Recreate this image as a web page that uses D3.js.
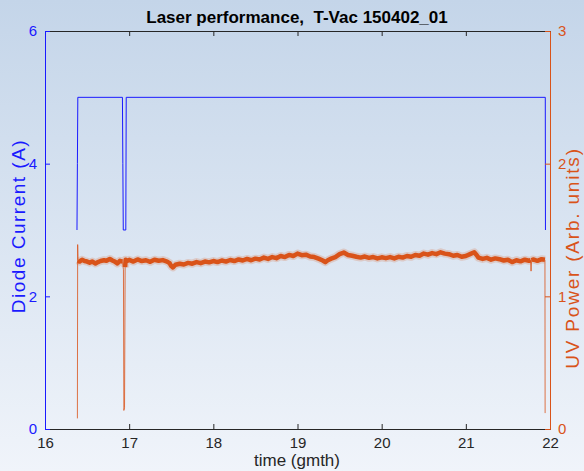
<!DOCTYPE html>
<html>
<head>
<meta charset="utf-8">
<script src="https://cdn.jsdelivr.net/npm/d3@7"></script>
<style>
  body { margin: 0; }
  svg { display: block; font-family: "Liberation Sans", Arial, Helvetica, sans-serif; }
</style>
</head>
<body>
<div id="chart"></div>
<script>
const width = 584, height = 471;
const margin = {top: 31, right: 34, bottom: 42, left: 45};
const blueColor = '#1a1aff';
const redColor = '#d95319';
const axisGrey = '#262626';

// time axis
const xTicks = [16, 17, 18, 19, 20, 21, 22];
const leftTicks = [0, 2, 4, 6];
const rightTicks = [0, 1, 2, 3];

// diode current (A)
const currentTime = [16.38, 16.385, 16.39, 16.92, 16.925, 16.93, 16.96, 16.965, 21.944, 21.946];
const currentVal  = [3, 4, 5, 5, 4, 3, 3, 5, 5, 3];

// uv power (arb. units)
const uvTime = [16.385, 16.388, 16.392, 16.41, 16.44, 16.47, 16.50, 16.53, 16.56, 16.60, 16.63, 16.66,
  16.70, 16.73, 16.77, 16.80, 16.83, 16.86, 16.89, 16.92, 16.932, 16.937, 16.945, 16.952, 16.958, 16.98,
  17.00, 17.05, 17.10, 17.15, 17.20, 17.25, 17.30, 17.35, 17.40, 17.45, 17.48, 17.50, 17.52, 17.55,
  17.60, 17.65, 17.70, 17.75, 17.80, 17.85, 17.90, 17.95, 18.00, 18.05, 18.10, 18.15, 18.20, 18.25,
  18.30, 18.35, 18.40, 18.45, 18.50, 18.55, 18.60, 18.65, 18.70, 18.75, 18.80, 18.85, 18.90, 18.95,
  19.00, 19.05, 19.10, 19.15, 19.20, 19.25, 19.30, 19.33, 19.36, 19.40, 19.45, 19.50, 19.55, 19.60,
  19.65, 19.70, 19.75, 19.80, 19.85, 19.90, 19.95, 20.00, 20.05, 20.10, 20.15, 20.20, 20.25, 20.30,
  20.35, 20.40, 20.45, 20.50, 20.55, 20.60, 20.65, 20.70, 20.75, 20.80, 20.85, 20.90, 20.95, 21.00,
  21.05, 21.10, 21.13, 21.15, 21.20, 21.25, 21.30, 21.35, 21.40, 21.45, 21.50, 21.55, 21.60, 21.65,
  21.70, 21.75, 21.77, 21.775, 21.78, 21.80, 21.85, 21.90, 21.94, 21.942];
const uvPower = [0.08, 1.39, 1.27, 1.262, 1.276, 1.266, 1.262, 1.254, 1.262, 1.248, 1.258, 1.266,
  1.272, 1.268, 1.282, 1.270, 1.262, 1.248, 1.268, 1.262, 1.20, 0.14, 0.16, 1.22, 1.276, 1.268,
  1.275, 1.262, 1.278, 1.266, 1.272, 1.260, 1.276, 1.268, 1.273, 1.262, 1.250, 1.228, 1.218, 1.238,
  1.246, 1.240, 1.252, 1.246, 1.258, 1.250, 1.262, 1.256, 1.266, 1.258, 1.270, 1.262, 1.274, 1.266,
  1.278, 1.270, 1.282, 1.272, 1.284, 1.278, 1.292, 1.282, 1.296, 1.288, 1.304, 1.296, 1.312, 1.304,
  1.322, 1.310, 1.314, 1.300, 1.296, 1.284, 1.270, 1.258, 1.272, 1.284, 1.296, 1.318, 1.330, 1.312,
  1.306, 1.298, 1.292, 1.300, 1.290, 1.296, 1.286, 1.294, 1.288, 1.296, 1.286, 1.298, 1.292, 1.304,
  1.298, 1.312, 1.306, 1.322, 1.314, 1.326, 1.318, 1.332, 1.322, 1.318, 1.306, 1.312, 1.298, 1.304,
  1.318, 1.332, 1.310, 1.292, 1.282, 1.290, 1.276, 1.286, 1.280, 1.270, 1.276, 1.258, 1.272, 1.264,
  1.276, 1.268, 1.272, 1.19, 1.272, 1.278, 1.268, 1.280, 1.276, 0.12];

const svg = d3.select('#chart').append('svg')
    .attr('width', width)
    .attr('height', height);

const grad = svg.append('defs').append('linearGradient')
    .attr('id', 'bg').attr('x1', 0).attr('y1', 0).attr('x2', 0).attr('y2', 1);
grad.append('stop').attr('offset', '0%').attr('stop-color', '#c4d5e9');
grad.append('stop').attr('offset', '100%').attr('stop-color', '#f0f4fa');
svg.append('rect').attr('width', width).attr('height', height).attr('fill', 'url(#bg)');

const x = d3.scaleLinear().domain([16, 22]).range([margin.left, width - margin.right]);
const yL = d3.scaleLinear().domain([0, 6]).range([height - margin.bottom, margin.top]);
const yR = d3.scaleLinear().domain([0, 3]).range([height - margin.bottom, margin.top]);

// data lines
const current = currentTime.map((t, i) => ({t: t, v: currentVal[i]}));
const uv = uvTime.map((t, i) => ({t: t, v: uvPower[i]}));

svg.append('path')
    .datum(uv)
    .attr('fill', 'none')
    .attr('stroke', redColor)
    .attr('stroke-width', 1)
    .attr('opacity', 0.8)
    .attr('d', d3.line().x(d => x(d.t)).y(d => yR(d.v)));

// noisy plateau band
const plateau = d3.line().defined(d => d.v > 1.2 && d.v < 1.35).x(d => x(d.t)).y(d => yR(d.v));
svg.append('path')
    .datum(uv)
    .attr('fill', 'none')
    .attr('stroke', redColor)
    .attr('stroke-width', 8)
    .attr('stroke-opacity', 0.2)
    .attr('stroke-linejoin', 'round')
    .attr('d', plateau);
svg.append('path')
    .datum(uv)
    .attr('fill', 'none')
    .attr('stroke', redColor)
    .attr('stroke-width', 4.5)
    .attr('stroke-linejoin', 'round')
    .attr('d', plateau);

svg.append('path')
    .datum(current)
    .attr('fill', 'none')
    .attr('stroke', blueColor)
    .attr('stroke-width', 1)
    .attr('d', d3.line().x(d => x(d.t)).y(d => yL(d.v)));

// axes
const xAxisBottom = svg.append('g')
    .attr('transform', `translate(0,${height - margin.bottom})`)
    .call(d3.axisBottom(x).tickValues(xTicks).tickSize(-5).tickPadding(8).tickFormat(d3.format('d')));
const xAxisTop = svg.append('g')
    .attr('transform', `translate(0,${margin.top})`)
    .call(d3.axisTop(x).tickValues(xTicks).tickSize(-5).tickFormat(''));
[xAxisBottom, xAxisTop].forEach(g => {
    g.select('.domain').attr('stroke', axisGrey);
    g.selectAll('.tick line').attr('stroke', axisGrey);
    g.selectAll('.tick text').attr('fill', axisGrey).style('font-size', '15px')
        .style('font-family', '"Liberation Sans", Arial, sans-serif');
});

const yAxisLeft = svg.append('g')
    .attr('transform', `translate(${margin.left},0)`)
    .call(d3.axisLeft(yL).tickValues(leftTicks).tickSize(-5).tickPadding(8).tickFormat(d3.format('d')));
const yAxisRight = svg.append('g')
    .attr('transform', `translate(${width - margin.right},0)`)
    .call(d3.axisRight(yR).tickValues(rightTicks).tickSize(-5).tickPadding(8).tickFormat(d3.format('d')));
[[yAxisLeft, blueColor], [yAxisRight, redColor]].forEach(([g, c]) => {
    g.select('.domain').attr('stroke', c);
    g.selectAll('.tick line').attr('stroke', c);
    g.selectAll('.tick text').attr('fill', c).style('font-size', '15px')
        .style('font-family', '"Liberation Sans", Arial, sans-serif');
});

// labels
svg.append('text')
    .attr('x', 297)
    .attr('y', 23)
    .attr('text-anchor', 'middle')
    .attr('xml:space', 'preserve')
    .style('font-size', '17px')
    .style('font-weight', 'bold')
    .attr('fill', '#000')
    .text('Laser performance,  T-Vac 150402_01');

svg.append('text')
    .attr('x', 297)
    .attr('y', 466)
    .attr('text-anchor', 'middle')
    .style('font-size', '17px')
    .attr('fill', axisGrey)
    .text('time (gmth)');

svg.append('text')
    .attr('transform', `translate(25,226) rotate(-90)`)
    .attr('text-anchor', 'middle')
    .style('font-size', '19px')
    .style('letter-spacing', '1.5px')
    .attr('fill', blueColor)
    .text('Diode Current (A)');

svg.append('text')
    .attr('transform', `translate(579,258) rotate(-90)`)
    .attr('text-anchor', 'middle')
    .style('font-size', '19px')
    .style('letter-spacing', '1.8px')
    .attr('fill', redColor)
    .text('UV Power (Arb. units)');
</script>
</body>
</html>
